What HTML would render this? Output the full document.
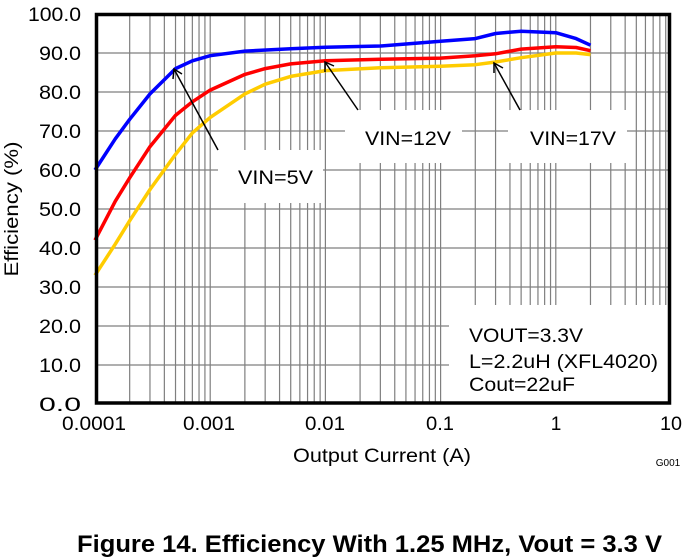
<!DOCTYPE html>
<html><head><meta charset="utf-8"><style>
body{margin:0;background:#fff;width:700px;height:558px;overflow:hidden}
svg{display:block}
text{font-family:"Liberation Sans",Arial,sans-serif;fill:#000}
</style></head><body>
<svg id="s" width="700" height="558" viewBox="0 0 700 558" xmlns="http://www.w3.org/2000/svg">
<g id="grid" stroke="#7f7f7f" stroke-width="1.2"></g>
<g id="curves" fill="none" stroke-width="3.5" stroke-linejoin="round"></g>
<g fill="#fff">
<rect x="218" y="150" width="105" height="53"/>
<rect x="345" y="110" width="117" height="53"/>
<rect x="508" y="110" width="119" height="53"/>
<rect x="449" y="305" width="220" height="97"/>
</g>
<g stroke="#000" stroke-width="1.5" fill="none">
<line x1="218" y1="150" x2="174" y2="69"/><polyline points="173,79 174,69 182,74"/>
<line x1="358" y1="110" x2="325" y2="62"/><polyline points="325,72 325,62 334,66"/>
<line x1="520" y1="110" x2="494" y2="63"/><polyline points="494,73 494,63 503,68"/>
</g>
<rect x="96.5" y="14.5" width="573" height="388.5" fill="none" stroke="#000" stroke-width="3.5"/>
<g font-size="19">
<text x="238" y="184" textLength="75" lengthAdjust="spacingAndGlyphs">VIN=5V</text>
<text x="365" y="145" textLength="86" lengthAdjust="spacingAndGlyphs">VIN=12V</text>
<text x="530" y="145" textLength="86" lengthAdjust="spacingAndGlyphs">VIN=17V</text>
<text x="469" y="342" textLength="114" lengthAdjust="spacingAndGlyphs">VOUT=3.3V</text>
<text x="469" y="368" textLength="189" lengthAdjust="spacingAndGlyphs">L=2.2uH (XFL4020)</text>
<text x="469" y="391" textLength="106" lengthAdjust="spacingAndGlyphs">Cout=22uF</text>
</g>
<g id="ylab" font-size="19" text-anchor="end"></g>
<g font-size="19" text-anchor="middle">
<text x="94" y="430" textLength="64" lengthAdjust="spacingAndGlyphs">0.0001</text>
<text x="209" y="430" textLength="52" lengthAdjust="spacingAndGlyphs">0.001</text>
<text x="325" y="430" textLength="40" lengthAdjust="spacingAndGlyphs">0.01</text>
<text x="440" y="430" textLength="28" lengthAdjust="spacingAndGlyphs">0.1</text>
<text x="556" y="430">1</text>
<text x="671" y="430" textLength="22" lengthAdjust="spacingAndGlyphs">10</text>
<text x="382" y="462" textLength="178" lengthAdjust="spacingAndGlyphs">Output Current (A)</text>
</g>
<text x="668" y="466" font-size="10" text-anchor="middle">G001</text>
<text transform="translate(18,209) rotate(-90)" font-size="19" text-anchor="middle" textLength="135" lengthAdjust="spacingAndGlyphs">Efficiency (%)</text>
<text x="77" y="552" font-size="24" font-weight="bold" textLength="585" lengthAdjust="spacingAndGlyphs">Figure 14. Efficiency With 1.25 MHz, Vout = 3.3 V</text>
</svg>
<script>
var NS="http://www.w3.org/2000/svg";
function X(v){return 95+115.2*(Math.log10(v)+4);}
function Y(p){return 404-3.9*p;}
var g=document.getElementById('grid');
function ln(a,b,c,d){var l=document.createElementNS(NS,'line');l.setAttribute('x1',a);l.setAttribute('y1',b);l.setAttribute('x2',c);l.setAttribute('y2',d);g.appendChild(l);}
for(var e=-4;e<1;e++)for(var k=1;k<10;k++){var x=X(k*Math.pow(10,e));if(x>96)ln(x,14,x,404);}
var yl=document.getElementById('ylab');
for(var p=0;p<=100;p+=10){if(p>0&&p<100)ln(95,Y(p),671,Y(p));var t=document.createElementNS(NS,'text');t.setAttribute('x',81);t.setAttribute('y',Y(p)+7);t.setAttribute('textLength',p==100?53:42);t.setAttribute('lengthAdjust','spacingAndGlyphs');t.textContent=p.toFixed(1);yl.appendChild(t);}
var data={
"#0000ff":[[1e-4,60],[1.5e-4,68],[2e-4,73],[3e-4,79.5],[5e-4,86],[7e-4,88],[1e-3,89.3],[2e-3,90.5],[5e-3,91.1],[1e-2,91.5],[3e-2,91.8],[5e-2,92.3],[0.1,93],[0.2,93.7],[0.3,95],[0.5,95.6],[1,95.2],[1.5,93.7],[2,92]],
"#ff0000":[[1e-4,42],[1.5e-4,52],[2e-4,58],[3e-4,66],[5e-4,74],[7e-4,77.5],[1e-3,80.5],[2e-3,84.5],[3e-3,86],[5e-3,87.2],[1e-2,88],[3e-2,88.4],[0.1,88.7],[0.2,89.3],[0.3,89.8],[0.5,91],[1,91.6],[1.5,91.4],[2,90.6]],
"#ffcc00":[[1e-4,33],[1.5e-4,41],[2e-4,47],[3e-4,55],[5e-4,64],[7e-4,69.5],[1e-3,73.5],[2e-3,79.5],[3e-3,82],[5e-3,84],[1e-2,85.5],[3e-2,86.2],[0.1,86.6],[0.2,87],[0.3,87.7],[0.5,88.8],[1,90],[1.5,90],[2,89.6]]};
var cg=document.getElementById('curves');
for(var c in data){var pts=data[c].map(function(d){return X(d[0]).toFixed(1)+','+Y(d[1]).toFixed(1)}).join(' ');var pl=document.createElementNS(NS,'polyline');pl.setAttribute('points',pts);pl.setAttribute('stroke',c);cg.appendChild(pl);}
</script>
</body></html>
